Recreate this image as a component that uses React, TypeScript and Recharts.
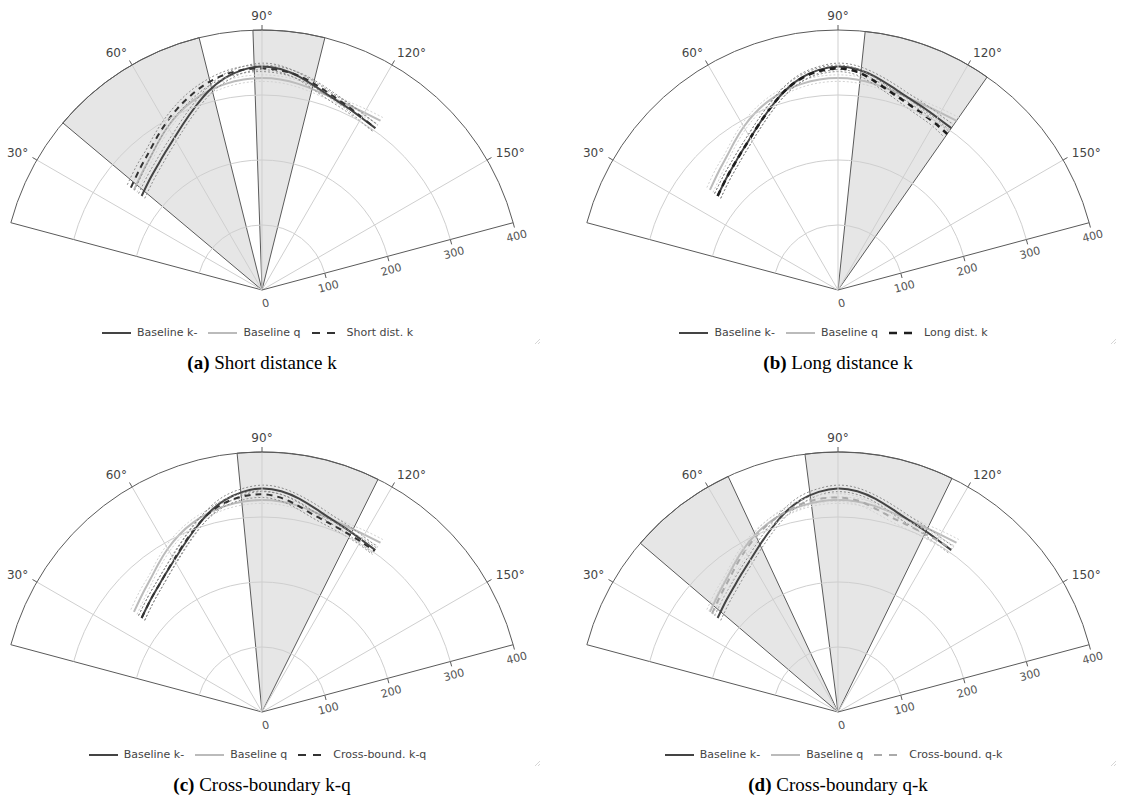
import React from 'react';
import { RadarChart, Radar, PolarAngleAxis, PolarRadiusAxis, Curve } from 'recharts';

// polar angle (deg) of each sample, shared by every curve
const angles = [38, 45, 50, 55, 60, 65, 70, 75, 80, 85, 90, 95, 100, 105, 110, 115, 120, 125];

// baselines (same in all four panels)
const baselineK = [235, 243, 250, 259, 270, 284, 300, 317, 331, 340, 344, 341, 333, 323, 315, 310, 306, 304];
const baselineKLo = [229, 237, 244, 253, 264, 278, 294, 311, 325, 335, 339, 336, 328, 317, 309, 304, 300, 298];
const baselineKHi = [241, 249, 256, 265, 276, 290, 306, 323, 337, 345, 349, 346, 338, 329, 321, 316, 312, 310];

const baselineQ = [250, 259, 267, 278, 290, 301, 310, 317, 322, 325, 326, 325, 322, 318, 315, 314, 315, 318];
const baselineQLo = [244, 253, 262, 273, 285, 296, 305, 312, 317, 320, 321, 320, 317, 313, 310, 309, 309, 312];
const baselineQHi = [256, 265, 272, 283, 295, 306, 315, 322, 327, 330, 331, 330, 327, 323, 320, 319, 321, 324];

// panel-specific runs
const shortDist = [256, 265, 273, 284, 296, 308, 319, 329, 336, 340, 341, 339, 334, 326, 318, 312, 307, 304];
const shortDistLo = [249, 258, 267, 278, 290, 302, 313, 324, 331, 335, 336, 334, 329, 321, 313, 307, 301, 298];
const shortDistHi = [263, 272, 279, 290, 302, 314, 325, 334, 341, 345, 346, 344, 339, 331, 323, 317, 313, 310];

const longDist = [235, 243, 250, 259, 270, 284, 300, 317, 330, 338, 341, 337, 326, 315, 307, 301, 297, 293];
const longDistLo = [229, 237, 244, 253, 264, 278, 294, 311, 325, 333, 336, 332, 321, 310, 301, 295, 291, 286];
const longDistHi = [241, 249, 256, 265, 276, 290, 306, 323, 335, 343, 346, 342, 331, 320, 313, 307, 303, 300];

const crossKQ = [235, 243, 250, 259, 271, 285, 301, 316, 327, 333, 335, 331, 322, 313, 308, 305, 303, 302];
const crossKQLo = [229, 237, 244, 253, 265, 279, 295, 310, 322, 328, 330, 326, 317, 308, 303, 300, 298, 296];
const crossKQHi = [241, 249, 256, 265, 277, 291, 307, 322, 332, 338, 340, 336, 327, 318, 313, 310, 308, 308];

const crossQK = [246, 255, 263, 274, 286, 298, 309, 318, 325, 329, 330, 327, 319, 311, 307, 305, 305, 306];
const crossQKLo = [240, 249, 257, 268, 280, 292, 303, 312, 319, 323, 324, 321, 313, 305, 301, 299, 299, 300];
const crossQKHi = [252, 261, 269, 280, 292, 304, 315, 324, 331, 335, 336, 333, 325, 317, 313, 311, 311, 312];

// shaded angular sectors [from, to] in degrees
const wedgesA = [[40, 76], [88, 104]];
const wedgesB = [[96, 125]];
const wedgesC = [[84.5, 116.5]];
const wedgesD = [[40.5, 65], [82.7, 116]];

const angleTicks = [15, 30, 60, 90, 120, 150, 165];
const radiusTicks = [0, 100, 200, 300, 400];
const radiusMax = 400;

const CX = 262;
const CY = 290;
const R = 260;
const FONT = '"DejaVu Sans", Verdana, sans-serif';
const EDGE = '#5a5a5a';
const GRID = '#cfcfcf';

const rad = (d: number) => (d * Math.PI) / 180;
const pol = (cx: number, cy: number, r: number, a: number) => ({
  x: cx + r * Math.cos(rad(a)),
  y: cy - r * Math.sin(rad(a)),
});

function buildRows(extra: number[], lo: number[], hi: number[], wedges: number[][]) {
  const rows: any[] = angles.map((a, i) => ({
    angle: a,
    k: baselineK[i], kLo: baselineKLo[i], kHi: baselineKHi[i],
    q: baselineQ[i], qLo: baselineQLo[i], qHi: baselineQHi[i],
    x: extra[i], xLo: lo[i], xHi: hi[i],
  }));
  wedges.forEach(([a0, a1]) => {
    rows.push({ angle: a0, wedge: radiusMax });
    rows.push({ angle: a1, wedge: radiusMax });
  });
  return rows.sort((a, b) => a.angle - b.angle);
}

const valid = (p: any) => p.value != null && Number.isFinite(p.x) && Number.isFinite(p.y);

const lineShape = (stroke: string, width: number, dash?: string) => (props: any) => {
  const pts = (props.points || []).filter(valid).map((p: any) => ({ x: p.x, y: p.y }));
  return (
    <Curve points={pts} type="natural" stroke={stroke} strokeWidth={width}
      strokeDasharray={dash} fill="none" />
  );
};

const wedgeShape = (props: any) => {
  const pts = (props.points || []).filter(valid);
  const out = [];
  for (let i = 0; i + 1 < pts.length; i += 2) {
    const p0 = pts[i];
    const p1 = pts[i + 1];
    const cx = p0.cx ?? CX;
    const cy = p0.cy ?? CY;
    const d = `M${cx},${cy} L${p0.x},${p0.y} A${p0.radius},${p0.radius} 0 0 1 ${p1.x},${p1.y} Z`;
    out.push(<path key={i} d={d} fill="#e6e6e6" stroke={EDGE} strokeWidth={1} />);
  }
  return <g>{out}</g>;
};

function AngleTick(props: any) {
  const { payload } = props;
  const cx = props.cx ?? CX;
  const cy = props.cy ?? CY;
  const a = payload.coordinate;
  const v = payload.value;
  const p0 = pol(cx, cy, R, a);
  if (v === 15 || v === 165) {
    return <line x1={cx} y1={cy} x2={p0.x} y2={p0.y} stroke={EDGE} strokeWidth={1} />;
  }
  const t = pol(cx, cy, R + 5, a);
  const lp = pol(cx, cy, R + 10, a);
  const c = Math.cos(rad(a));
  const anchor = c < -0.1 ? 'end' : c > 0.1 ? 'start' : 'middle';
  return (
    <g>
      <line x1={cx} y1={cy} x2={p0.x} y2={p0.y} stroke={GRID} strokeWidth={1} />
      <line x1={p0.x} y1={p0.y} x2={t.x} y2={t.y} stroke={EDGE} strokeWidth={1} />
      <text x={lp.x} y={lp.y - 4 * Math.sin(rad(a))} textAnchor={anchor} dominantBaseline="central"
        fontFamily={FONT} fontSize={12} fill="#444">{`${v}°`}</text>
    </g>
  );
}

function RadiusTick(props: any) {
  const { payload } = props;
  const cx = props.cx ?? CX;
  const cy = props.cy ?? CY;
  const r = payload.coordinate;
  const v = payload.value;
  const p = pol(cx, cy, r, 15);
  const nx = Math.sin(rad(15));
  const ny = Math.cos(rad(15));
  const left = pol(cx, cy, r, 165);
  const lx = p.x + 14 * nx;
  const ly = p.y + 14 * ny;
  return (
    <g>
      {r > 0 && (
        <path d={`M${left.x},${left.y} A${r},${r} 0 0 1 ${p.x},${p.y}`} fill="none"
          stroke={v === radiusMax ? EDGE : GRID} strokeWidth={1} />
      )}
      {r > 0 && <line x1={p.x} y1={p.y} x2={p.x + 5 * nx} y2={p.y + 5 * ny} stroke={EDGE} strokeWidth={1} />}
      <text x={lx} y={ly} textAnchor="middle" dominantBaseline="central" fontFamily={FONT}
        fontSize={11} fill="#555" transform={`rotate(-15, ${lx}, ${ly})`}>{v}</text>
    </g>
  );
}

const panels = [
  { id: 'a', left: 0, top: 0, extra: shortDist, lo: shortDistLo, hi: shortDistHi, wedges: wedgesA,
    name: 'Short dist. k', caption: 'Short distance k', color: '#333', width: 2, light: false },
  { id: 'b', left: 576, top: 0, extra: longDist, lo: longDistLo, hi: longDistHi, wedges: wedgesB,
    name: 'Long dist. k', caption: 'Long distance k', color: '#1e1e1e', width: 2.6, light: false },
  { id: 'c', left: 0, top: 422, extra: crossKQ, lo: crossKQLo, hi: crossKQHi, wedges: wedgesC,
    name: 'Cross-bound. k-q', caption: 'Cross-boundary k-q', color: '#333', width: 2, light: false },
  { id: 'd', left: 576, top: 422, extra: crossQK, lo: crossQKLo, hi: crossQKHi, wedges: wedgesD,
    name: 'Cross-bound. q-k', caption: 'Cross-boundary q-k', color: '#aaa', width: 2, light: true },
];

function LegendItem({ color, width, dash, label }: any) {
  return (
    <div style={{ display: 'flex', alignItems: 'center', marginRight: 11 }}>
      <svg width={29} height={10} style={{ marginRight: 6 }}>
        <line x1={0} y1={5} x2={29} y2={5} stroke={color} strokeWidth={width} strokeDasharray={dash} />
      </svg>
      <span>{label}</span>
    </div>
  );
}

function Panel({ p }: any) {
  const rows = buildRows(p.extra, p.lo, p.hi, p.wedges);
  const boundColor = p.light ? '#d2d2d2' : '#8c8c8c';
  return (
    <div style={{ position: 'absolute', left: p.left, top: p.top, width: 560, height: 380 }}>
      <RadarChart width={560} height={320} data={rows} cx={CX} cy={CY} innerRadius={0} outerRadius={R}
        startAngle={165} endAngle={15} margin={{ top: 0, right: 0, bottom: 0, left: 0 }}>
        <Radar dataKey="wedge" isAnimationActive={false} dot={false} shape={wedgeShape} />
        <PolarAngleAxis dataKey="angle" type="number" scale="linear" domain={[15, 165]} ticks={angleTicks}
          tick={AngleTick} axisLine={false} tickLine={false} />
        <PolarRadiusAxis angle={15} type="number" scale="linear" domain={[0, radiusMax]} ticks={radiusTicks}
          tickCount={5} tick={RadiusTick} axisLine={false} tickLine={false} />
        <Radar dataKey="qLo" isAnimationActive={false} dot={false} shape={lineShape('#d2d2d2', 1, '2 2')} />
        <Radar dataKey="qHi" isAnimationActive={false} dot={false} shape={lineShape('#d2d2d2', 1, '2 2')} />
        <Radar dataKey="q" isAnimationActive={false} dot={false} shape={lineShape('#bbb', 2)} />
        <Radar dataKey="kLo" isAnimationActive={false} dot={false} shape={lineShape('#8c8c8c', 1, '2 2')} />
        <Radar dataKey="kHi" isAnimationActive={false} dot={false} shape={lineShape('#8c8c8c', 1, '2 2')} />
        <Radar dataKey="k" isAnimationActive={false} dot={false} shape={lineShape('#444', 2)} />
        <Radar dataKey="xLo" isAnimationActive={false} dot={false} shape={lineShape(boundColor, 1, '2 2')} />
        <Radar dataKey="xHi" isAnimationActive={false} dot={false} shape={lineShape(boundColor, 1, '2 2')} />
        <Radar dataKey="x" isAnimationActive={false} dot={false} shape={lineShape(p.color, p.width, '6 5')} />
      </RadarChart>
      <div style={{ position: 'absolute', left: -17, top: 326, width: 560, height: 14, display: 'flex',
        justifyContent: 'center', alignItems: 'center', fontFamily: FONT, fontSize: 11, color: '#444',
        lineHeight: '14px' }}>
        <LegendItem color="#444" width={2} label="Baseline k-" />
        <LegendItem color="#bbb" width={2} label="Baseline q" />
        <LegendItem color={p.color} width={p.width} dash="8 7" label={p.name} />
      </div>
      <svg style={{ position: 'absolute', left: 533, top: 337 }} width={8} height={8}>
        <line x1={7} y1={2} x2={2} y2={7} stroke="#d6d6d6" strokeWidth={1} />
        <line x1={7} y1={5} x2={5} y2={7} stroke="#d6d6d6" strokeWidth={1} />
      </svg>
      <div style={{ position: 'absolute', left: 0, top: 352, width: 524, textAlign: 'center',
        fontFamily: '"Liberation Serif", "Times New Roman", serif', fontSize: 19, lineHeight: '22px',
        color: '#000' }}>
        <b>({p.id})</b> {p.caption}
      </div>
    </div>
  );
}

export default function App() {
  return (
    <div style={{ position: 'absolute', left: 0, top: 0, width: 1123, height: 803, background: '#fff' }}>
      {panels.map((p) => <Panel key={p.id} p={p} />)}
    </div>
  );
}
